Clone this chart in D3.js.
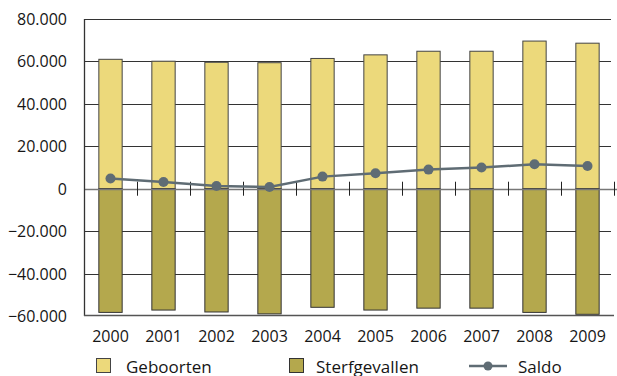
<!DOCTYPE html>
<html><head><meta charset="utf-8">
<script src="https://cdn.jsdelivr.net/npm/d3@7"></script>
<style>
html,body{margin:0;padding:0;background:#fff;}
svg text{font-family:"Open Sans","Noto Sans",sans-serif;fill:#161616;}
</style></head>
<body><svg id="c" width="617" height="376"></svg>
<script>
const years = ["2000","2001","2002","2003","2004","2005","2006","2007","2008","2009"];
const geboorten = [61000, 60100, 59600, 59400, 61400, 63100, 64800, 64800, 69600, 68600];
const sterfgevallen = [-58300, -57200, -58100, -59000, -55900, -57200, -56300, -56300, -58300, -59200];
const saldo = [4800, 3200, 1300, 800, 5700, 7300, 9000, 10000, 11500, 10700];
const yTicks = [-60000, -40000, -20000, 0, 20000, 40000, 60000, 80000];
const legendLabels = ["Geboorten", "Sterfgevallen", "Saldo"];

const svg = d3.select("#c");
const L = 84, R = 614, T = 19, B = 316;
const x = d3.scaleBand().domain(years).range([L, R]).paddingInner(0.56).paddingOuter(0.28);
const y = d3.scaleLinear().domain([-60000, 80000]).range([B, T]);
const fmt = v => d3.format(",")(v).replace(/,/g, ".");

// gridlines
svg.append("g").selectAll("line").data(yTicks.filter(v => v !== -60000 && v !== 0)).join("line")
  .attr("x1", L).attr("x2", 611).attr("y1", d => Math.round(y(d)) + 0.5).attr("y2", d => Math.round(y(d)) + 0.5)
  .attr("stroke", "#333").attr("stroke-width", 1);

// y labels
svg.append("g").selectAll("text").data(yTicks).join("text")
  .attr("x", 67).attr("y", d => y(d) + 6).attr("text-anchor", "end")
  .attr("font-size", 16).text(d => fmt(d));

const gcol = "#ecd97b", scol = "#b4a84d";
// bars
svg.append("g").selectAll("rect").data(years).join("rect")
  .attr("x", d => x(d)).attr("width", x.bandwidth())
  .attr("y", (d, i) => y(geboorten[i])).attr("height", (d, i) => y(0) - y(geboorten[i]))
  .attr("fill", gcol).attr("stroke", "#444").attr("stroke-width", 1);
svg.append("g").selectAll("rect").data(years).join("rect")
  .attr("x", d => x(d)).attr("width", x.bandwidth())
  .attr("y", y(0)).attr("height", (d, i) => y(sterfgevallen[i]) - y(0))
  .attr("fill", scol).attr("stroke", "#333").attr("stroke-width", 1);

// zero line
svg.append("line").attr("x1", L).attr("x2", 617).attr("y1", Math.round(y(0)) + 0.5).attr("y2", Math.round(y(0)) + 0.5)
  .attr("stroke", "#777").attr("stroke-width", 1.5);
// category ticks
svg.append("g").selectAll("line").data(years).join("line")
  .attr("x1", d => Math.round(x(d) + x.step() - x.step() * 0.28) + 0.5)
  .attr("x2", d => Math.round(x(d) + x.step() - x.step() * 0.28) + 0.5)
  .attr("y1", y(0) - 7).attr("y2", y(0) + 7)
  .attr("stroke", "#222").attr("stroke-width", 1);

// axes lines
svg.append("line").attr("x1", L + 0.5).attr("x2", L + 0.5).attr("y1", T).attr("y2", B)
  .attr("stroke", "#333").attr("stroke-width", 1.3);
svg.append("line").attr("x1", L).attr("x2", 614).attr("y1", B - 0.5).attr("y2", B - 0.5)
  .attr("stroke", "#555").attr("stroke-width", 1.3);

// saldo line
const lcol = "#5f6c74";
const cx = d => x(d) + x.bandwidth() / 2;
svg.append("path").datum(years)
  .attr("d", d3.line().x(d => cx(d)).y((d, i) => y(saldo[i])))
  .attr("fill", "none").attr("stroke", lcol).attr("stroke-width", 2.5);
svg.append("g").selectAll("circle").data(years).join("circle")
  .attr("cx", d => cx(d)).attr("cy", (d, i) => y(saldo[i])).attr("r", 5).attr("fill", lcol);

// x labels
svg.append("g").selectAll("text").data(years).join("text")
  .attr("x", d => cx(d)).attr("y", 342).attr("text-anchor", "middle")
  .attr("font-size", 16).text(d => d);

// legend
const lg = svg.append("g");
lg.append("rect").attr("x", 96.5).attr("y", 358.5).attr("width", 14).attr("height", 14).attr("fill", gcol).attr("stroke", "#444");
lg.append("text").attr("x", 126).attr("y", 372.5).attr("font-size", 17).text(legendLabels[0]);
lg.append("rect").attr("x", 289.5).attr("y", 358.5).attr("width", 14).attr("height", 14).attr("fill", scol).attr("stroke", "#333");
lg.append("text").attr("x", 316).attr("y", 372.5).attr("font-size", 17).text(legendLabels[1]);
lg.append("line").attr("x1", 469).attr("x2", 507).attr("y1", 366).attr("y2", 366).attr("stroke", lcol).attr("stroke-width", 2.5);
lg.append("circle").attr("cx", 488).attr("cy", 366).attr("r", 4.5).attr("fill", lcol);
lg.append("text").attr("x", 518).attr("y", 372.5).attr("font-size", 17).text(legendLabels[2]);
</script></body></html>
